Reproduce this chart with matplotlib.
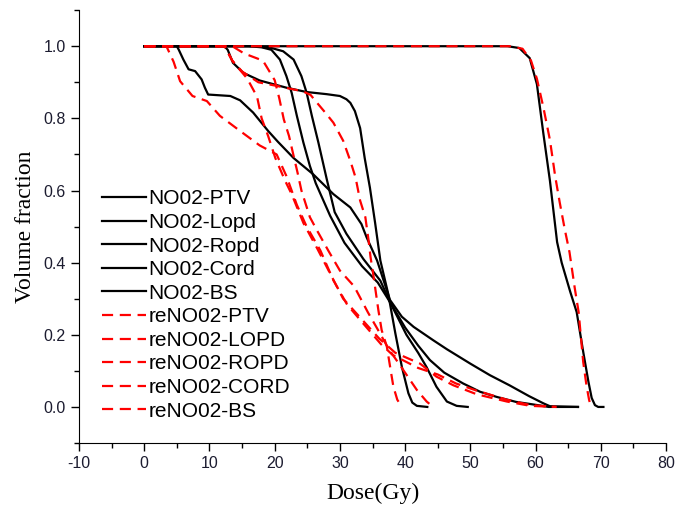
import numpy as np
import matplotlib.pyplot as plt
from matplotlib.ticker import MultipleLocator

# DVH curves: dose (Gy) and volume fraction
ptv_d = [0, 55.7, 57.5, 59.1, 60.2, 61.2, 62.2, 63.3, 64.0, 65.3, 66.3, 67.3, 68.1, 68.6, 69.1, 69.6, 70.4]
ptv_v = [1, 1.0, 0.995, 0.967, 0.895, 0.757, 0.627, 0.457, 0.40, 0.32, 0.263, 0.153, 0.07, 0.025, 0.005, 0, 0]

lopd_d = [0, 16.0, 18.0, 19.5, 20.8, 21.8, 22.6, 23.4, 24.4, 25.4, 26.3, 28.5, 30.7, 33.4, 35.8, 37.7,
          40.2, 42.0, 43.3, 44.8, 46.4, 47.9, 49.6]
lopd_v = [1, 1.0, 0.997, 0.99, 0.963, 0.917, 0.871, 0.807, 0.733, 0.668, 0.62, 0.53, 0.455, 0.39, 0.345, 0.29,
          0.20, 0.15, 0.11, 0.056, 0.015, 0.003, 0]

ropd_d = [0, 17.0, 19.5, 21.3, 22.9, 24.1, 24.9, 25.7, 26.7, 28.0, 29.2, 31.0, 33.6, 36.2, 37.7, 40.0,
          42.0, 43.8, 46.0, 48.9, 51.5, 54.0, 57.0, 60.7, 62.0, 66.5]
ropd_v = [1, 1.0, 0.995, 0.986, 0.963, 0.917, 0.871, 0.807, 0.733, 0.63, 0.54, 0.48, 0.41, 0.35, 0.29, 0.22,
          0.17, 0.13, 0.095, 0.065, 0.042, 0.028, 0.014, 0.004, 0.0, 0]

cord_d = [0, 5.0, 5.3, 6.0, 6.8, 7.8, 8.8, 9.3, 9.8, 13.2, 14.7, 16.7, 19.0, 20.5, 22.9, 25.9, 29.0, 31.6,
          33.3, 34.1, 35.7, 37.2, 37.7, 39.5, 41.3, 44.3, 46.4, 50.0, 53.0, 56.0, 59.0, 61.2, 62.2, 66.5]
cord_v = [1, 1.0, 0.99, 0.963, 0.936, 0.931, 0.908, 0.885, 0.866, 0.862, 0.85, 0.816, 0.765, 0.735, 0.69, 0.645,
          0.59, 0.553, 0.507, 0.47, 0.406, 0.323, 0.296, 0.25, 0.222, 0.185, 0.16, 0.12, 0.088, 0.06, 0.03, 0.01,
          0.002, 0]

bs_d = [0, 12.3, 12.8, 13.6, 15.2, 17.7, 21.8, 24.9, 28.0, 30.0, 31.0, 31.6, 32.3, 33.1, 33.8, 34.6, 35.4,
        36.2, 37.4, 38.5, 39.5, 40.5, 41.1, 41.8, 43.4]
bs_v = [1, 1.0, 0.99, 0.954, 0.926, 0.905, 0.885, 0.873, 0.867, 0.862, 0.853, 0.843, 0.82, 0.773, 0.69, 0.608,
        0.51, 0.406, 0.314, 0.204, 0.111, 0.038, 0.012, 0.003, 0]

re_ptv_d = [0, 56.0, 58.0, 59.3, 60.2, 61.2, 62.2, 63.0, 63.7, 64.5, 65.2, 66.0, 66.6, 67.3, 67.8, 68.2, 68.5]
re_ptv_v = [1, 1.0, 0.993, 0.96, 0.91, 0.83, 0.74, 0.64, 0.567, 0.49, 0.429, 0.33, 0.263, 0.125, 0.06, 0.02, 0]

re_lopd_d = [0, 13.5, 15.3, 18.2, 20.0, 20.7, 21.4, 22.2, 22.9, 23.5, 24.1, 25.4, 26.5, 28.2, 30.0, 32.2,
             34.3, 35.7, 37.5, 39.2, 41.8, 43.3, 44.3]
re_lopd_v = [1, 1.0, 0.98, 0.96, 0.906, 0.856, 0.797, 0.751, 0.696, 0.65, 0.60, 0.526, 0.489, 0.434, 0.378, 0.334,
             0.262, 0.218, 0.16, 0.116, 0.047, 0.015, 0]

re_ropd_d = [0, 12.3, 13.5, 15.8, 17.3, 18.0, 19.0, 20.1, 21.6, 22.6, 24.4, 26.5, 28.5, 30.5, 33.0, 36.0,
             38.5, 42.3, 44.8, 47.4, 51.0, 55.6, 59.2, 63.2]
re_ropd_v = [1, 1.0, 0.96, 0.91, 0.86, 0.80, 0.751, 0.69, 0.627, 0.59, 0.51, 0.44, 0.37, 0.30, 0.25, 0.19,
             0.15, 0.12, 0.084, 0.06, 0.035, 0.015, 0.003, 0]

re_cord_d = [0, 3.4, 4.5, 5.5, 7.4, 9.6, 11.6, 14.7, 17.7, 20.3, 21.8, 23.4, 24.9, 27.0, 29.0, 31.1, 33.4,
             36.3, 38.1, 42.0, 45.0, 47.8, 51.0, 55.6, 59.2, 63.2]
re_cord_v = [1, 1.0, 0.957, 0.903, 0.862, 0.848, 0.807, 0.765, 0.725, 0.70, 0.64, 0.56, 0.50, 0.434, 0.351, 0.284,
             0.235, 0.174, 0.144, 0.108, 0.09, 0.065, 0.045, 0.02, 0.005, 0]

re_bs_d = [0, 12.3, 13.5, 15.0, 17.5, 20.3, 24.3, 25.5, 26.5, 27.8, 29.0, 30.5, 31.6, 32.4, 33.1, 33.9, 34.4,
           34.7, 35.1, 35.9, 36.4, 37.2, 37.7, 38.2, 38.8, 39.5]
re_bs_v = [1, 1.0, 0.96, 0.93, 0.90, 0.89, 0.875, 0.865, 0.843, 0.815, 0.788, 0.738, 0.682, 0.636, 0.572, 0.526,
           0.461, 0.415, 0.369, 0.268, 0.213, 0.167, 0.111, 0.056, 0.02, 0]

plt.rcParams['font.family'] = 'Liberation Sans'
plt.rcParams['axes.unicode_minus'] = False

fig = plt.figure(figsize=(6.77, 5.07), dpi=100)
ax = fig.add_axes([0.1167, 0.1262, 0.8671, 0.8538])

black = [("NO02-PTV", ptv_d, ptv_v), ("NO02-Lopd", lopd_d, lopd_v), ("NO02-Ropd", ropd_d, ropd_v),
         ("NO02-Cord", cord_d, cord_v), ("NO02-BS", bs_d, bs_v)]
red = [("reNO02-PTV", re_ptv_d, re_ptv_v), ("reNO02-LOPD", re_lopd_d, re_lopd_v),
       ("reNO02-ROPD", re_ropd_d, re_ropd_v), ("reNO02-CORD", re_cord_d, re_cord_v),
       ("reNO02-BS", re_bs_d, re_bs_v)]

for name, d, v in black:
    ax.plot(d, v, color='black', lw=1.6, label=name)
for name, d, v in red:
    ax.plot(d, v, color='red', lw=1.6, linestyle=(0, (5, 3)), label=name)

ax.set_xlim(-10, 80)
ax.set_ylim(-0.1, 1.1)
ax.xaxis.set_major_locator(MultipleLocator(10))
ax.xaxis.set_minor_locator(MultipleLocator(5))
ax.yaxis.set_minor_locator(MultipleLocator(0.1))
ax.set_yticks(np.arange(0, 1.01, 0.2))
ax.set_yticklabels(["%.1f" % t for t in np.arange(0, 1.01, 0.2)])

ax.spines['top'].set_visible(False)
ax.spines['right'].set_visible(False)
ax.tick_params(which='major', direction='out', length=6, width=1, labelsize=11.5, colors='black',
               labelcolor='#1c1c30')
ax.tick_params(which='minor', direction='out', length=3.3, width=1)

ax.set_xlabel("Dose(Gy)", family='Liberation Serif', fontsize=17, labelpad=8)
ax.set_ylabel("Volume fraction", family='Liberation Serif', fontsize=17, labelpad=5)

leg = ax.legend(loc='upper left', bbox_to_anchor=(0.022, 0.61), frameon=False, fontsize=15,
                handlelength=2.1, handletextpad=0.12, labelspacing=0.22, borderpad=0)

fig.savefig("out.png", dpi=100)
